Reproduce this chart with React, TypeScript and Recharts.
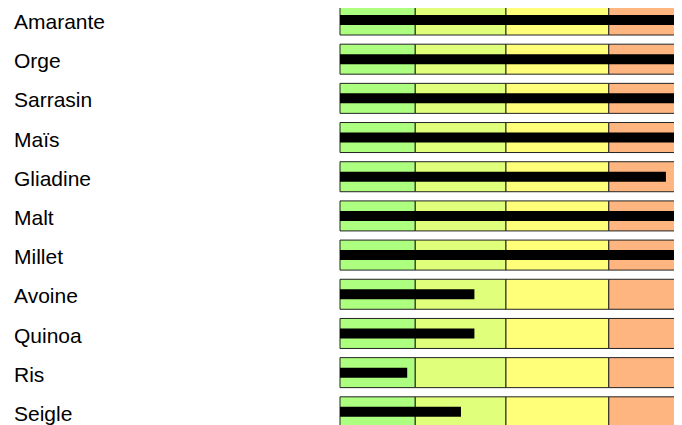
import React from 'react';
import { Bar, BarChart, XAxis, YAxis } from 'recharts';

// Grain names, top to bottom
const grains = [
  'Amarante',
  'Orge',
  'Sarrasin',
  'Maïs',
  'Gliadine',
  'Malt',
  'Millet',
  'Avoine',
  'Quinoa',
  'Ris',
  'Seigle',
];

// Measured level per grain (0-100 scale)
const levels = [100, 100, 100, 100, 97, 100, 100, 40, 40, 20, 36];

// Widths of the qualitative ranges behind each bar
const rangeLow = 22.4;
const rangeMid = 27;
const rangeHigh = 30.6;
const rangeTop = 20;

const rangeColors = ['#adff7f', '#e0ff7a', '#ffff7a', '#ffb57f'];

const data = grains.map((name, i) => ({
  name,
  low: rangeLow,
  mid: rangeMid,
  high: rangeHigh,
  top: rangeTop,
  level: levels[i],
}));

const LabelTick = (props: any) => {
  const { y, payload } = props;
  return (
    <text
      x={14}
      y={y + 2}
      dominantBaseline="central"
      textAnchor="start"
      fontFamily="'Liberation Sans', Arial, sans-serif"
      fontSize={21}
      fill="#000"
    >
      {payload.value}
    </text>
  );
};

export default function App() {
  return (
    <div style={{ margin: -8, width: 682, height: 433, overflow: 'hidden' }}>
      <BarChart
        width={682}
        height={431}
        data={data}
        layout="vertical"
        margin={{ top: 0, right: 6, bottom: 0, left: 0 }}
        barGap={0}
      >
        <XAxis type="number" domain={[0, 100]} hide />
        <YAxis
          type="category"
          dataKey="name"
          width={340}
          axisLine={false}
          tickLine={false}
          tick={<LabelTick />}
        />
        <YAxis yAxisId="level" type="category" dataKey="name" hide />
        {['low', 'mid', 'high', 'top'].map((key, i) => (
          <Bar
            key={key}
            dataKey={key}
            stackId="ranges"
            fill={rangeColors[i]}
            stroke="#222"
            strokeWidth={1}
            barSize={30}
            isAnimationActive={false}
          />
        ))}
        <Bar
          yAxisId="level"
          dataKey="level"
          fill="#000"
          barSize={10}
          isAnimationActive={false}
        />
      </BarChart>
    </div>
  );
}
